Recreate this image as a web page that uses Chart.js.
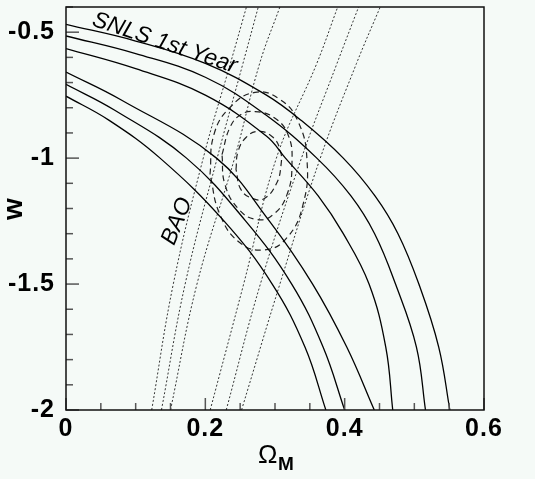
<!DOCTYPE html>
<html><head><meta charset="utf-8">
<script src="https://cdn.jsdelivr.net/npm/chart.js@4"></script>
<style>html,body{margin:0;padding:0;background:#f5faf7;}canvas{display:block;}</style>
</head><body>
<canvas id="c" width="535" height="479"></canvas>
<script>
// ---- data (Omega_M, w) ----
const snls3sUpper = [[0,-0.469],[0.1,-0.535],[0.2,-0.624],[0.286,-0.747],[0.3375,-0.85],[0.398,-1.0],[0.4435,-1.15],[0.4765,-1.3],[0.5065,-1.5],[0.535,-1.75],[0.551,-2.0]];
const snls2sUpper = [[0,-0.515],[0.1,-0.585],[0.2,-0.679],[0.286,-0.827],[0.36,-1.0],[0.409,-1.15],[0.443,-1.3],[0.473,-1.5],[0.503,-1.75],[0.516,-2.0]];
const snls1sUpper = [[0,-0.565],[0.1,-0.645],[0.2,-0.75],[0.288,-0.913],[0.315,-1.0],[0.362,-1.15],[0.398,-1.3],[0.435,-1.5],[0.459,-1.75],[0.469,-2.0]];
const snls1sLower = [[0,-0.658],[0.08,-0.77],[0.216,-1.0],[0.292,-1.25],[0.354,-1.5],[0.403,-1.75],[0.4425,-2.0]];
const snls2sLower = [[0,-0.707],[0.07,-0.81],[0.173,-1.0],[0.258,-1.25],[0.324,-1.5],[0.369,-1.75],[0.400,-2.0]];
const snls3sLower = [[0,-0.754],[0.062,-0.85],[0.135,-1.0],[0.227,-1.25],[0.296,-1.5],[0.343,-1.75],[0.373,-2.0]];

const bao1 = [[0.123,-2],[0.154,-1.5],[0.197,-1.0],[0.236,-0.624],[0.259,-0.4]];
const bao2 = [[0.137,-2],[0.171,-1.5],[0.217,-1.0],[0.254,-0.624],[0.276,-0.4]];
const bao3 = [[0.150,-2],[0.188,-1.5],[0.242,-1.0],[0.278,-0.624],[0.307,-0.4]];
const bao4 = [[0.207,-2],[0.255,-1.5],[0.302,-1.0],[0.360,-0.624],[0.390,-0.4]];
const bao5 = [[0.230,-2],[0.279,-1.5],[0.338,-1.0],[0.389,-0.624],[0.420,-0.4]];
const bao6 = [[0.252,-2],[0.307,-1.5],[0.365,-1.0],[0.417,-0.624],[0.451,-0.4]];

const joint1s = [[0.2440,-1.045],[0.2469,-0.974],[0.2584,-0.918],[0.2756,-0.894],[0.2957,-0.914],[0.3072,-0.966],[0.3086,-1.029],[0.3014,-1.105],[0.2842,-1.161],[0.2684,-1.161],[0.2512,-1.125],[0.2440,-1.045]];
const joint2s = [[0.2239,-0.986],[0.2354,-0.878],[0.2512,-0.827],[0.2713,-0.815],[0.2985,-0.839],[0.3186,-0.906],[0.3244,-1.018],[0.3172,-1.145],[0.2971,-1.225],[0.2741,-1.244],[0.2483,-1.204],[0.2282,-1.105],[0.2239,-0.986]];
const joint3s = [[0.2067,-1.065],[0.2124,-0.906],[0.2354,-0.799],[0.2713,-0.739],[0.3072,-0.767],[0.3330,-0.854],[0.3459,-1.006],[0.3402,-1.185],[0.3172,-1.316],[0.2856,-1.364],[0.2497,-1.336],[0.2210,-1.224],[0.2067,-1.065]];

const xTicksMajor = [0, 0.2, 0.4, 0.6];
const yTicksMajor = [-2, -1.5, -1, -0.5];
const snlsLabel = {text: 'SNLS 1st Year', at: [0.036, -0.472]};
const baoLabel = {text: 'BAO', at: [0.155, -1.35]};

// ---- chart ----
const FONT = '"Liberation Sans", Arial, Helvetica, sans-serif';
const pts = a => a.map(p => ({x: p[0], y: p[1]}));
const solid = a => ({data: pts(a), borderColor: '#000', borderWidth: 1.3, tension: 0.4});
const dotted = a => ({data: pts(a), borderColor: '#333', borderWidth: 1, borderDash: [2, 2], tension: 0.4});
const dashed = a => ({data: pts(a), borderColor: '#222', borderWidth: 1.2, borderDash: [6, 4], tension: 0.45});
const isMaj = (v, list) => list.some(m => Math.abs(m - v) < 1e-6);
const fmt = v => String(Number(v.toFixed(2)));

const decor = {
  id: 'decor',
  beforeDraw(chart) { chart.ctx.letterSpacing = '1px'; },
  beforeDatasetsDraw(chart) { chart.ctx.letterSpacing = '0px'; },
  afterDraw(chart) {
    const {ctx, chartArea: a, scales: {x, y}} = chart;
    ctx.save();
    ctx.letterSpacing = '0px';
    ctx.strokeStyle = '#555';
    ctx.lineWidth = 1.5;
    x.ticks.forEach(t => {
      const px = x.getPixelForValue(t.value);
      const L = isMaj(t.value, xTicksMajor) ? 12 : 7;
      ctx.beginPath(); ctx.moveTo(px, a.bottom); ctx.lineTo(px, a.bottom - L); ctx.stroke();
    });
    y.ticks.forEach(t => {
      const py = y.getPixelForValue(t.value);
      const L = isMaj(t.value, yTicksMajor) ? 13 : 7;
      ctx.beginPath(); ctx.moveTo(a.left, py); ctx.lineTo(a.left + L, py); ctx.stroke();
    });
    ctx.strokeStyle = '#111';
    ctx.lineWidth = 1.5;
    ctx.strokeRect(a.left, a.top, a.right - a.left, a.bottom - a.top);
    ctx.fillStyle = '#000';
    // in-plot labels
    ctx.font = 'italic 23px ' + FONT;
    ctx.textBaseline = 'alphabetic';
    ctx.save();
    ctx.translate(x.getPixelForValue(snlsLabel.at[0]), y.getPixelForValue(snlsLabel.at[1]));
    ctx.rotate(18.5 * Math.PI / 180);
    ctx.fillText(snlsLabel.text, 0, 0);
    ctx.restore();
    ctx.save();
    ctx.translate(x.getPixelForValue(baoLabel.at[0]), y.getPixelForValue(baoLabel.at[1]));
    ctx.rotate(-68 * Math.PI / 180);
    ctx.fillText(baoLabel.text, 0, 0);
    ctx.restore();
    // axis titles
    ctx.font = 'bold 28px ' + FONT;
    ctx.textAlign = 'center';
    ctx.save();
    ctx.translate(22, 209);
    ctx.rotate(-Math.PI / 2);
    ctx.fillText('w', 0, 0);
    ctx.restore();
    ctx.textAlign = 'left';
    ctx.font = '26px ' + FONT;
    ctx.fillText('\u03A9', 258, 463);
    ctx.font = 'bold 19px ' + FONT;
    ctx.fillText('M', 278, 470);
    ctx.restore();
  }
};

new Chart(document.getElementById('c'), {
  type: 'scatter',
  data: {
    datasets: [
      solid(snls3sUpper), solid(snls2sUpper), solid(snls1sUpper),
      solid(snls1sLower), solid(snls2sLower), solid(snls3sLower),
      dotted(bao1), dotted(bao2), dotted(bao3), dotted(bao4), dotted(bao5), dotted(bao6),
      dashed(joint1s), dashed(joint2s), dashed(joint3s)
    ].map(d => Object.assign(d, {showLine: true, pointRadius: 0, fill: false}))
  },
  options: {
    responsive: false,
    animation: false,
    layout: {padding: {top: 7, right: 51, left: 0, bottom: 0}},
    plugins: {legend: {display: false}, tooltip: {enabled: false}},
    scales: {
      x: {
        type: 'linear', min: 0, max: 0.6,
        grid: {display: false}, border: {display: false},
        ticks: {stepSize: 0.05, autoSkip: false, maxRotation: 0, padding: -4, color: '#000',
          font: {family: FONT, size: 25, weight: 'bold'},
          callback: v => isMaj(v, xTicksMajor) ? fmt(v) : ''},
        afterFit: s => { s.height = 69; s.paddingLeft = 0; s.paddingRight = 0; }
      },
      y: {
        type: 'linear', min: -2, max: -0.4,
        grid: {display: false}, border: {display: false},
        ticks: {stepSize: 0.1, autoSkip: false, padding: 3, color: '#000',
          font: {family: FONT, size: 25, weight: 'bold'},
          callback: v => isMaj(v, yTicksMajor) ? fmt(v) : ''},
        afterFit: s => { s.width = 66; s.paddingTop = 0; s.paddingBottom = 0; }
      }
    }
  },
  plugins: [decor]
});
</script>
</body></html>
